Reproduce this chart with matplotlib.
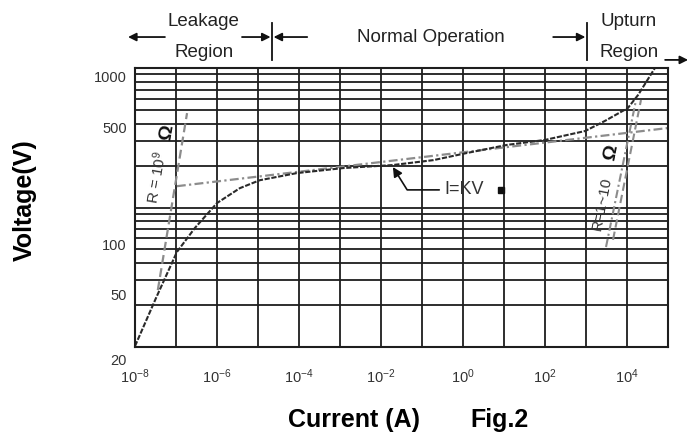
import matplotlib
matplotlib.use('Agg')
import matplotlib.pyplot as plt
import numpy as np
from matplotlib.ticker import LogLocator, FixedLocator, NullLocator, NullFormatter

plt.rcParams['font.family'] = ['Liberation Sans', 'DejaVu Sans']
plt.rcParams['mathtext.fontset'] = 'custom'
plt.rcParams['mathtext.rm'] = 'Liberation Sans'
plt.rcParams['mathtext.it'] = 'Liberation Sans:italic'
plt.rcParams['mathtext.bf'] = 'Liberation Sans:bold'

# V-I characteristic
current = [1e-8, 3.25e-8, 1.05e-7, 2.9e-7, 1e-6, 3.6e-6, 1.1e-5, 8.9e-5, 1.2e-3,
           0.019, 0.19, 1.26, 11.7, 100, 955, 2900, 10500, 18600, 48000, 63000]
voltage = [24.5, 47.5, 89.6, 125, 176, 216, 241, 266, 285,
           297, 318, 351, 392, 420, 475, 546, 652, 780, 1132, 1355]

# I = KV line
kv_current = [1.05e-7, 1e5]
kv_voltage = [222, 495]

# R = 10^9 ohm line
r9_current = [3.6e-8, 1.86e-7]
r9_voltage = [53, 608]

# R = 1 ~ 10 ohm lines
r1_current = [3076, 16600]
r1_voltage = [96, 728]
r10_current = [4560, 21900]
r10_voltage = [106, 728]

x_ticks = [1e-8, 1e-6, 1e-4, 1e-2, 1e0, 1e2, 1e4]
x_labels = ['$10^{-8}$', '$10^{-6}$', '$10^{-4}$', '$10^{-2}$', '$10^{0}$', '$10^{2}$', '$10^{4}$']
y_ticks = [50, 100, 500, 1000]
y_labels = ['50', '100', '500', '1000']

# region boundaries (current, A)
leak_edge = 2.2e-5
upturn_edge = 1.05e3

grid_c = '#1e1e1e'

fig = plt.figure(figsize=(6.88, 4.33), dpi=100)
ax = fig.add_axes([135 / 688, 1 - 347 / 433, 533 / 688, 279 / 433])
ax2 = ax.twinx()

# two-cycle log paper grid
ax2.set_yscale('log')
ax2.set_ylim(1, 100)
ax2.yaxis.set_major_locator(LogLocator(base=10, subs=np.arange(1, 10)))
ax2.yaxis.set_minor_locator(NullLocator())
ax2.yaxis.set_major_formatter(NullFormatter())
ax2.tick_params(axis='y', which='both', length=0)
ax2.grid(axis='y', color=grid_c, lw=1.3)
for s in ax2.spines.values():
    s.set_visible(False)

ax.set_zorder(ax2.get_zorder() + 1)
ax.patch.set_visible(False)

ax.set_xscale('log')
ax.set_yscale('log')
ax.set_xlim(1e-8, 1e5)
ax.set_ylim(24.2, 1132)

ax.set_xticks(x_ticks)
ax.set_xticklabels(x_labels)
ax.xaxis.remove_overlapping_locs = False
ax.xaxis.set_minor_locator(FixedLocator(10.0 ** np.arange(-8, 6)))
ax.xaxis.set_minor_formatter(NullFormatter())
ax.set_yticks(y_ticks)
ax.set_yticklabels(y_labels)
ax.yaxis.set_minor_locator(NullLocator())
ax.tick_params(axis='both', which='both', length=0, colors='#333333')
ax.tick_params(axis='x', pad=15, labelsize=10.5)
ax.tick_params(axis='y', pad=6, labelsize=10.5)
ax.text(-0.015, 20, '20', transform=ax.get_yaxis_transform(), ha='right', va='center',
        fontsize=10.5, color='#333333', clip_on=False)
ax.set_axisbelow(True)
ax.grid(axis='x', which='minor', color=grid_c, lw=1.3)
for s in ax.spines.values():
    s.set_color(grid_c)
    s.set_linewidth(1.5)

# curves
ax.plot(r9_current, r9_voltage, color='#8c8c8c', lw=1.6, ls=(0, (4, 2)))
ax.plot(kv_current, kv_voltage, color='#8c8c8c', lw=1.6, ls=(0, (4, 1.5, 1, 1.5)))
ax.plot(r1_current, r1_voltage, color='#8c8c8c', lw=1.5, ls=(0, (4, 1.5, 1, 1.5)))
ax.plot(r10_current, r10_voltage, color='#8c8c8c', lw=1.5, ls=(0, (4, 2)))
ax.plot(current, voltage, color='#2a2a2a', lw=1.5, ls=(0, (2.5, 0.8)))

# resistance labels
ax.text(3.4e-8, 250, 'R = 10$^9$', rotation=80, ha='center', va='center', fontsize=11,
        color='#333333')
ax.text(6e-8, 462, 'Ω', rotation=80, ha='center', va='center', fontsize=14,
        fontweight='bold', color='#111111')
ax.text(2460, 175, 'R=1~10', rotation=79, ha='center', va='center', fontsize=11,
        color='#333333')
ax.text(4260, 351, 'Ω', rotation=79, ha='center', va='center', fontsize=14,
        fontweight='bold', color='#111111')

# I=KV callout
ax.annotate('I=KV', xy=(0.0195, 289), xytext=(0.36, 211), ha='left', va='center',
            fontsize=13, color='#333333',
            arrowprops=dict(arrowstyle='-|>', color='#111111', lw=1.2, mutation_scale=14,
                            connectionstyle='angle,angleA=0,angleB=-58,rad=0',
                            shrinkA=2, shrinkB=0))
ax.plot([8.5], [211], 's', ms=5, color='#111111')

# region annotations above the plot
mix = ('data', 'axes fraction')
ann = dict(xycoords=mix, textcoords=mix, annotation_clip=False)
arrow = dict(arrowstyle='-|>', color='#111111', lw=1.3, mutation_scale=12, shrinkA=0, shrinkB=0)
ax.text(10 ** -6.32, 1.165, 'Leakage', transform=ax.get_xaxis_transform(), ha='center',
        va='center', fontsize=13.5, color='#222222')
ax.text(10 ** -6.32, 1.057, 'Region', transform=ax.get_xaxis_transform(), ha='center',
        va='center', fontsize=13.5, color='#222222')
ax.annotate('', xy=(10 ** -8.17, 1.111), xytext=(10 ** -7.27, 1.111), arrowprops=arrow, **ann)
ax.annotate('', xy=(leak_edge * 0.92, 1.111), xytext=(10 ** -5.39, 1.111), arrowprops=arrow, **ann)
ax.annotate('', xy=(leak_edge * 1.09, 1.111), xytext=(10 ** -3.80, 1.111), arrowprops=arrow, **ann)
ax.plot([leak_edge, leak_edge], [1.029, 1.161], color='#111111', lw=1.3,
        transform=ax.get_xaxis_transform(), clip_on=False)
ax.text(10 ** -0.78, 1.111, 'Normal Operation', transform=ax.get_xaxis_transform(),
        ha='center', va='center', fontsize=13.5, color='#222222')
ax.annotate('', xy=(upturn_edge * 0.92, 1.111), xytext=(10 ** 2.20, 1.111), arrowprops=arrow, **ann)
ax.plot([upturn_edge, upturn_edge], [1.029, 1.161], color='#111111', lw=1.3,
        transform=ax.get_xaxis_transform(), clip_on=False)
ax.text(10 ** 4.05, 1.165, 'Upturn', transform=ax.get_xaxis_transform(), ha='center',
        va='center', fontsize=13.5, color='#222222')
ax.text(10 ** 4.05, 1.057, 'Region', transform=ax.get_xaxis_transform(), ha='center',
        va='center', fontsize=13.5, color='#222222')
ax.annotate('', xy=(10 ** 5.49, 1.029), xytext=(10 ** 4.93, 1.029), arrowprops=arrow, **ann)

# axis titles
fig.text(25 / 688, 1 - 200 / 433, 'Voltage(V)', rotation=90, ha='center', va='center',
         fontsize=18, fontweight='bold')
fig.text(288 / 688, 1 - 420 / 433, 'Current (A)', ha='left', va='center',
         fontsize=18, fontweight='bold')
fig.text(470 / 688, 1 - 420 / 433, 'Fig.2', ha='left', va='center',
         fontsize=18, fontweight='bold')

fig.savefig('out.png', dpi=100)
